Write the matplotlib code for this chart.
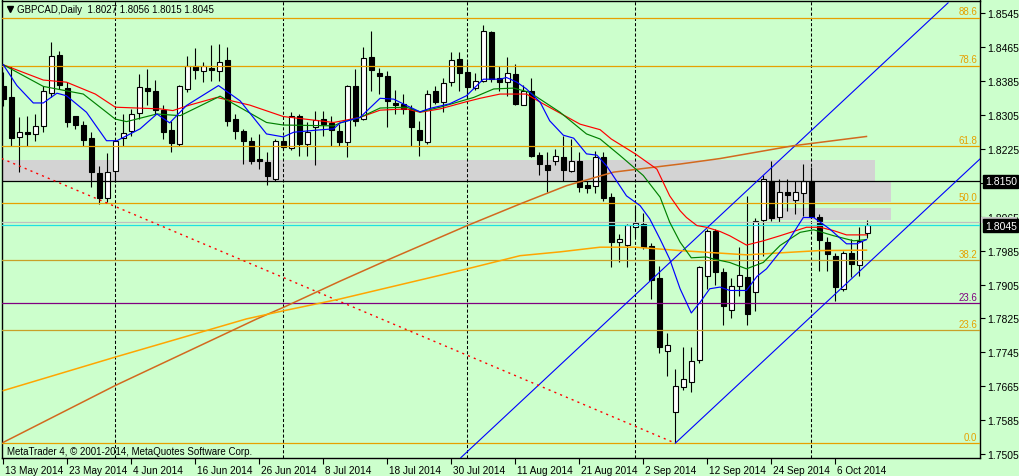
import matplotlib
matplotlib.use("Agg")
import matplotlib.pyplot as plt
import matplotlib.transforms as mtransforms
from matplotlib.patches import Rectangle
import pandas as pd

plt.rcParams['font.family'] = ['Liberation Sans', 'DejaVu Sans']

# daily bars, 13 May - 10 Oct 2014
dates = pd.bdate_range('2014-05-13', '2014-10-10')

opens = [1.8373, 1.8346, 1.8252, 1.8264, 1.8260, 1.8278, 1.8356, 1.8446, 1.8368, 1.8302,
         1.8282, 1.8250, 1.8168, 1.8108, 1.8172, 1.8250, 1.8268, 1.8309, 1.8368, 1.8362,
         1.8317, 1.8270, 1.8236, 1.8366, 1.8421, 1.8409, 1.8415, 1.8408, 1.8434, 1.8295,
         1.8266, 1.8244, 1.8202, 1.8193, 1.8154, 1.8244, 1.8226, 1.8302, 1.8236, 1.8277,
         1.8294, 1.8286, 1.8268, 1.8240, 1.8372, 1.8295, 1.8441, 1.8404, 1.8396, 1.8333,
         1.8331, 1.8319, 1.8269, 1.8242, 1.8362, 1.8335, 1.8382, 1.8437, 1.8407, 1.8368,
         1.8385, 1.8501, 1.8391, 1.8383, 1.8401, 1.8328, 1.8362, 1.8210, 1.8187, 1.8196,
         1.8205, 1.8173, 1.8195, 1.8140, 1.8138, 1.8205, 1.8111, 1.8005, 1.7998, 1.8040,
         1.8048, 1.7995, 1.7920, 1.7749, 1.7604, 1.7663, 1.7675, 1.7728, 1.7926, 1.8032,
         1.7934, 1.7845, 1.7902, 1.7923, 1.7887, 1.8057, 1.8149, 1.8063, 1.8122, 1.8105,
         1.8120, 1.8148, 1.8063, 1.8005, 1.7972, 1.7894, 1.7979, 1.7951, 1.8027]
highs = [1.8405, 1.8421, 1.8299, 1.8303, 1.8307, 1.8372, 1.8477, 1.8456, 1.8383, 1.8303,
         1.8291, 1.8264, 1.8185, 1.8215, 1.8248, 1.8307, 1.8319, 1.8401, 1.8413, 1.8387,
         1.8327, 1.8291, 1.8375, 1.8444, 1.8462, 1.8429, 1.8470, 1.8472, 1.8464, 1.8307,
         1.8272, 1.8253, 1.8260, 1.8217, 1.8248, 1.8256, 1.8311, 1.8307, 1.8287, 1.8315,
         1.8315, 1.8303, 1.8283, 1.8375, 1.8413, 1.8464, 1.8502, 1.8415, 1.8409, 1.8364,
         1.8354, 1.8327, 1.8291, 1.8364, 1.8374, 1.8391, 1.8454, 1.8454, 1.8429, 1.8404,
         1.8517, 1.8503, 1.8421, 1.8441, 1.8425, 1.8375, 1.8391, 1.8217, 1.8217, 1.8224,
         1.8256, 1.8248, 1.8217, 1.8150, 1.8220, 1.8217, 1.8121, 1.8024, 1.8048, 1.8091,
         1.8074, 1.8003, 1.7948, 1.7791, 1.7706, 1.7758, 1.7757, 1.7949, 1.8036, 1.8036,
         1.7943, 1.7920, 1.7993, 1.8113, 1.8062, 1.8163, 1.8197, 1.8154, 1.8154, 1.8150,
         1.8189, 1.8181, 1.8071, 1.8016, 1.7979, 1.7985, 1.8012, 1.8041, 1.8056]
lows = [1.8326, 1.8232, 1.8170, 1.8232, 1.8244, 1.8264, 1.8346, 1.8366, 1.8276, 1.8272,
        1.8232, 1.8134, 1.8095, 1.8100, 1.8146, 1.8232, 1.8256, 1.8295, 1.8327, 1.8307,
        1.8248, 1.8217, 1.8232, 1.8358, 1.8389, 1.8382, 1.8385, 1.8385, 1.8279, 1.8248,
        1.8189, 1.8189, 1.8177, 1.8140, 1.8149, 1.8224, 1.8223, 1.8209, 1.8209, 1.8187,
        1.8256, 1.8232, 1.8232, 1.8206, 1.8279, 1.8293, 1.8362, 1.8354, 1.8276, 1.8307,
        1.8307, 1.8232, 1.8209, 1.8236, 1.8331, 1.8311, 1.8374, 1.8362, 1.8342, 1.8364,
        1.8382, 1.8382, 1.8362, 1.8350, 1.8327, 1.8327, 1.8205, 1.8162, 1.8124, 1.8187,
        1.8150, 1.8170, 1.8122, 1.8121, 1.8121, 1.8103, 1.7946, 1.7959, 1.7946, 1.8016,
        1.7989, 1.7871, 1.7744, 1.7690, 1.7531, 1.7657, 1.7651, 1.7719, 1.7894, 1.7904,
        1.7810, 1.7825, 1.7879, 1.7810, 1.7843, 1.7973, 1.8055, 1.8053, 1.8079, 1.8071,
        1.8067, 1.8062, 1.7938, 1.7938, 1.7865, 1.7890, 1.7922, 1.7926, 1.8015]
closes = [1.8342, 1.8250, 1.8264, 1.8259, 1.8279, 1.8360, 1.8443, 1.8375, 1.8287, 1.8281,
          1.8246, 1.8171, 1.8109, 1.8170, 1.8244, 1.8261, 1.8307, 1.8370, 1.8362, 1.8317,
          1.8265, 1.8239, 1.8374, 1.8419, 1.8411, 1.8419, 1.8411, 1.8429, 1.8291, 1.8268,
          1.8244, 1.8197, 1.8195, 1.8160, 1.8244, 1.8228, 1.8303, 1.8236, 1.8265, 1.8293,
          1.8283, 1.8270, 1.8240, 1.8372, 1.8291, 1.8438, 1.8411, 1.8397, 1.8338, 1.8328,
          1.8319, 1.8277, 1.8246, 1.8354, 1.8335, 1.8380, 1.8434, 1.8404, 1.8370, 1.8384,
          1.8502, 1.8389, 1.8383, 1.8404, 1.8331, 1.8362, 1.8209, 1.8189, 1.8175, 1.8208,
          1.8176, 1.8197, 1.8134, 1.8132, 1.8205, 1.8108, 1.8005, 1.8012, 1.8045, 1.8049,
          1.7993, 1.7916, 1.7758, 1.7762, 1.7665, 1.7682, 1.7724, 1.7946, 1.8032, 1.7934,
          1.7854, 1.7901, 1.7928, 1.7836, 1.8054, 1.8153, 1.8062, 1.8122, 1.8116, 1.8122,
          1.8148, 1.8064, 1.8011, 1.7977, 1.7898, 1.7979, 1.7953, 1.8008, 1.8045]

# moving averages (bar index, price)
blue_x = [0, 1.7, 3.75, 5, 6.7, 7.9, 10.4, 12.9, 14.2, 17.1, 19.2, 20.8, 22.9, 26.9, 29.6,
          32.9, 35, 36.3, 39.2, 41.3, 42.1, 44.6, 47.1, 48.8, 50.4, 52.1, 53.3, 55.8, 57.9,
          60, 62.1, 62.9, 64.2, 65.4, 67.1, 68.3, 70, 71.3, 72.9, 74.2, 75.4, 77.9, 79.6,
          80.8, 82.1, 83.3, 84.6, 86, 87.1, 88.3, 89.6, 90.8, 92.9, 94.2, 95.4, 97.9, 100,
          101.3, 103.3, 105.4, 106.7, 107.9]
blue_y = [1.8423, 1.8374, 1.8333, 1.8333, 1.8356, 1.8350, 1.8311, 1.8244, 1.8244, 1.8272,
          1.8307, 1.8286, 1.8327, 1.8374, 1.8338, 1.8260, 1.8253, 1.8264, 1.8269, 1.8272,
          1.8286, 1.8299, 1.8344, 1.8342, 1.8327, 1.8312, 1.8320, 1.8331, 1.8350, 1.8389,
          1.8389, 1.8393, 1.8382, 1.8366, 1.8335, 1.8291, 1.8257, 1.8250, 1.8213, 1.8210,
          1.8185, 1.8114, 1.8091, 1.8060, 1.8012, 1.7965, 1.7895, 1.7838, 1.7863, 1.7895,
          1.7899, 1.7891, 1.7891, 1.7924, 1.7942, 1.8001, 1.8063, 1.8063, 1.8036, 1.8001,
          1.8001, 1.8011]
green_x = [0, 5, 10, 14, 15.4, 19.2, 22.1, 27.1, 32.9, 35, 41.3, 42.1, 44.6, 47.1, 50.4,
           52.1, 54.6, 58.8, 61.3, 63.8, 65.8, 69.6, 72.9, 74.6, 77.1, 80, 82.1, 83.3, 84.6,
           86, 87.9, 88.8, 90.8, 92.9, 95, 97.1, 99.6, 101.3, 103.8, 106.3, 107.9]
green_y = [1.8423, 1.8372, 1.8354, 1.8295, 1.8289, 1.8307, 1.8303, 1.8349, 1.8287, 1.8281,
           1.8279, 1.8286, 1.8299, 1.8321, 1.8323, 1.8312, 1.8323, 1.8346, 1.8366, 1.8368,
           1.8358, 1.8311, 1.8260, 1.8248, 1.8209, 1.8162, 1.8111, 1.8052, 1.8005, 1.7968,
           1.7970, 1.7965, 1.7957, 1.7942, 1.7957, 1.7997, 1.8028, 1.8034, 1.8020, 1.8008,
           1.8011]
red_x = [0, 5, 7.9, 11.5, 14, 19.6, 21.2, 23.3, 26.7, 30.8, 35, 41.3, 44.6, 47.1, 50.4,
         52.1, 54.6, 57.9, 59.6, 62.1, 65.4, 67.1, 72.1, 74.6, 76, 79, 81.7, 83.3, 84.6,
         85.4, 86.7, 87.9, 89.6, 90.8, 92.9, 95, 97.1, 100.4, 102.1, 103.8, 105.4, 107.9]
red_y = [1.8423, 1.8387, 1.8382, 1.8354, 1.8323, 1.8319, 1.8315, 1.8328, 1.8346, 1.8328,
         1.8301, 1.8287, 1.8299, 1.8316, 1.8319, 1.8311, 1.8319, 1.8336, 1.8344, 1.8354,
         1.8354, 1.8335, 1.8283, 1.8270, 1.8248, 1.8213, 1.8177, 1.8114, 1.8079, 1.8063,
         1.8044, 1.8040, 1.8030, 1.8020, 1.7998, 1.8008, 1.8020, 1.8040, 1.8040, 1.8032,
         1.8022, 1.8022]
choc_x = [0, 14, 31.7, 35, 42.1, 48.3, 58, 64.6, 70.4, 76.3, 84.6, 89.6, 98.7, 107.9]
choc_y = [1.7533, 1.7667, 1.7824, 1.7851, 1.7913, 1.7965, 1.8044, 1.8095, 1.8138, 1.8170,
          1.8189, 1.8202, 1.8232, 1.8254]
orange_x = [0, 14, 30.4, 35, 42.1, 58, 64.6, 69.6, 74.6, 79, 84.6, 89.6, 92.9, 102, 107.9]
orange_y = [1.7655, 1.7734, 1.7824, 1.7843, 1.7871, 1.7942, 1.7973, 1.7982, 1.7993, 1.7993,
            1.7985, 1.7979, 1.7975, 1.7985, 1.7986]

# objects
fib_prices = [1.7531, 1.7798, 1.7963, 1.8097, 1.8231, 1.8421, 1.8534]
fib_labels = ['0.0', '23.6', '38.2', '50.0', '61.8', '78.6', '88.6']
purple_level = 1.7861
purple_label = '23.6'
resist_level = 1.8150
bid = 1.8045
ask = 1.8052
chan_upper_x, chan_upper_y = [57.2, 118.1], [1.7497, 1.8569]
chan_lower_x, chan_lower_y = [84, 122.6], [1.7531, 1.8210]
red_tl_x, red_tl_y = [-0.2, 84], [1.8202, 1.7531]
zone1 = (-1, 109.0, 1.8150, 1.8199)      # bar from, bar to, price low, price high
zone2a = (95.0, 111.0, 1.8099, 1.8150)
zone2b = (95.0, 111.0, 1.8057, 1.8085)

price_ticks = [1.8545, 1.8465, 1.8385, 1.8305, 1.8225, 1.8145, 1.8065, 1.7985,
               1.7905, 1.7825, 1.7745, 1.7665, 1.7585, 1.7505]
date_labels = ['13 May 2014', '23 May 2014', '4 Jun 2014', '16 Jun 2014', '26 Jun 2014',
               '8 Jul 2014', '18 Jul 2014', '30 Jul 2014', '11 Aug 2014', '21 Aug 2014',
               '2 Sep 2014', '12 Sep 2014', '24 Sep 2014', '6 Oct 2014']

BG = '#CCFFCC'
FIB = '#E6A000'
fig = plt.figure(figsize=(10.2, 4.77), dpi=100, facecolor=BG)
ax = fig.add_axes([2.5/1020, 18/477, 977.5/1020, 457.5/477], facecolor=BG)
ax.set_xlim(-0.1, 122.09)
ax.set_ylim(1.74961, 1.85745)

# background rectangles
for z in (zone1, zone2a, zone2b):
    ax.add_patch(Rectangle((z[0], z[2]), z[1]-z[0], z[3]-z[2], fc='#D3D3D3', ec='none', zorder=0.5))

# month separators
for i in range(1, len(dates)):
    if dates[i].month != dates[i-1].month:
        ax.axvline(i, color='black', lw=0.75, ls=(0, (3, 2)), zorder=1)

# candles
n = len(opens)
for i in range(n):
    o, h, l, c = opens[i], highs[i], lows[i], closes[i]
    ax.vlines(i, l, h, color='black', lw=0.8, zorder=3)
    bot = min(o, c)
    hgt = max(abs(c - o), 0.00004)
    ax.add_patch(Rectangle((i - 0.28, bot), 0.56, hgt, fc='white' if c >= o else 'black',
                           ec='black', lw=0.8, zorder=3.1))

# horizontal levels
for p, lab in zip(fib_prices, fib_labels):
    col = '#C8A028' if lab in ('38.2', '23.6') else FIB
    ax.axhline(p, color=col, lw=0.9, zorder=4)
    ax.annotate(lab, xy=(1.0, p), xycoords=('axes fraction', 'data'), xytext=(-2, 1),
                textcoords='offset points', ha='right', va='bottom', color=FIB, fontsize=7)
ax.axhline(purple_level, color='#800080', lw=0.9, zorder=4)
ax.annotate(purple_label, xy=(1.0, purple_level), xycoords=('axes fraction', 'data'),
            xytext=(-2, 1), textcoords='offset points', ha='right', va='bottom',
            color='#800080', fontsize=7)
ax.axhline(resist_level, color='black', lw=0.9, zorder=4)
ax.axhline(ask, color='#C0C0C0', lw=0.9, zorder=4)
ax.axhline(bid, color='#20E0E0', lw=0.9, zorder=4)

# trend lines
ax.plot(chan_upper_x, chan_upper_y, color='blue', lw=0.8, zorder=4)
ax.plot(chan_lower_x, chan_lower_y, color='blue', lw=0.8, zorder=4)
ax.plot(red_tl_x, red_tl_y, color='red', lw=1, ls=(0, (1.5, 3)), zorder=4)

# moving averages
ax.plot(choc_x, choc_y, color='#D2691E', lw=1.1, zorder=5)
ax.plot(orange_x, orange_y, color='#FFA500', lw=1.1, zorder=5)
ax.plot(red_x, red_y, color='red', lw=0.85, zorder=5)
ax.plot(green_x, green_y, color='green', lw=0.85, zorder=5)
ax.plot(blue_x, blue_y, color='blue', lw=0.85, zorder=5)

# axes
for s in ax.spines.values():
    s.set_color('black')
    s.set_linewidth(1)
ax.yaxis.tick_right()
ax.set_yticks(price_ticks)
# 1.8145 sits under the 1.8150 line label, as in the terminal
ax.set_yticklabels(['' if abs(p - resist_level) < 0.001 else '%.4f' % p for p in price_ticks])
ax.tick_params(axis='y', direction='out', length=3.5, width=0.8, labelsize=7.5, pad=1.5)
ax.set_xticks(range(0, 8 * len(date_labels), 8))
ax.set_xticklabels(date_labels, ha='left')
ax.tick_params(axis='x', direction='out', length=4, width=0.8, labelsize=7.2, pad=1)
shift = mtransforms.ScaledTranslation(2/100, 0, fig.dpi_scale_trans)
for lbl in ax.get_xticklabels():
    lbl.set_transform(lbl.get_transform() + shift)

# price labels on the scale
blend = mtransforms.blended_transform_factory(ax.transAxes, ax.transData)
ax.add_patch(Rectangle((1.0015, ask - 0.0002), 0.036, 0.0014, transform=blend, fc='#C8C8C8',
                       ec='none', clip_on=False, zorder=9))
for p in (resist_level, bid):
    ax.annotate('%.4f' % p, xy=(1.0, p), xycoords=('axes fraction', 'data'), xytext=(3.5, -0.5),
                textcoords='offset points', ha='left', va='center', color='white', fontsize=7.5,
                bbox=dict(boxstyle='square,pad=0.15', fc='black', ec='black'),
                annotation_clip=False, zorder=10)

# header / footer
ax.plot([0.0077], [0.982], marker='v', ms=4.5, color='black', transform=ax.transAxes,
        clip_on=False, zorder=10)
ax.text(0.0148, 0.982, 'GBPCAD,Daily  %.4f %.4f %.4f %.4f' % (opens[-1], highs[-1], lows[-1], closes[-1]),
        transform=ax.transAxes, fontsize=7, va='center', ha='left', zorder=10)
ax.text(0.0046, 0.0153, 'MetaTrader 4, \u00a9 2001-2014, MetaQuotes Software Corp.',
        transform=ax.transAxes, fontsize=7, va='center', ha='left', zorder=10)

fig.savefig('out.png', dpi=100, facecolor=BG)
